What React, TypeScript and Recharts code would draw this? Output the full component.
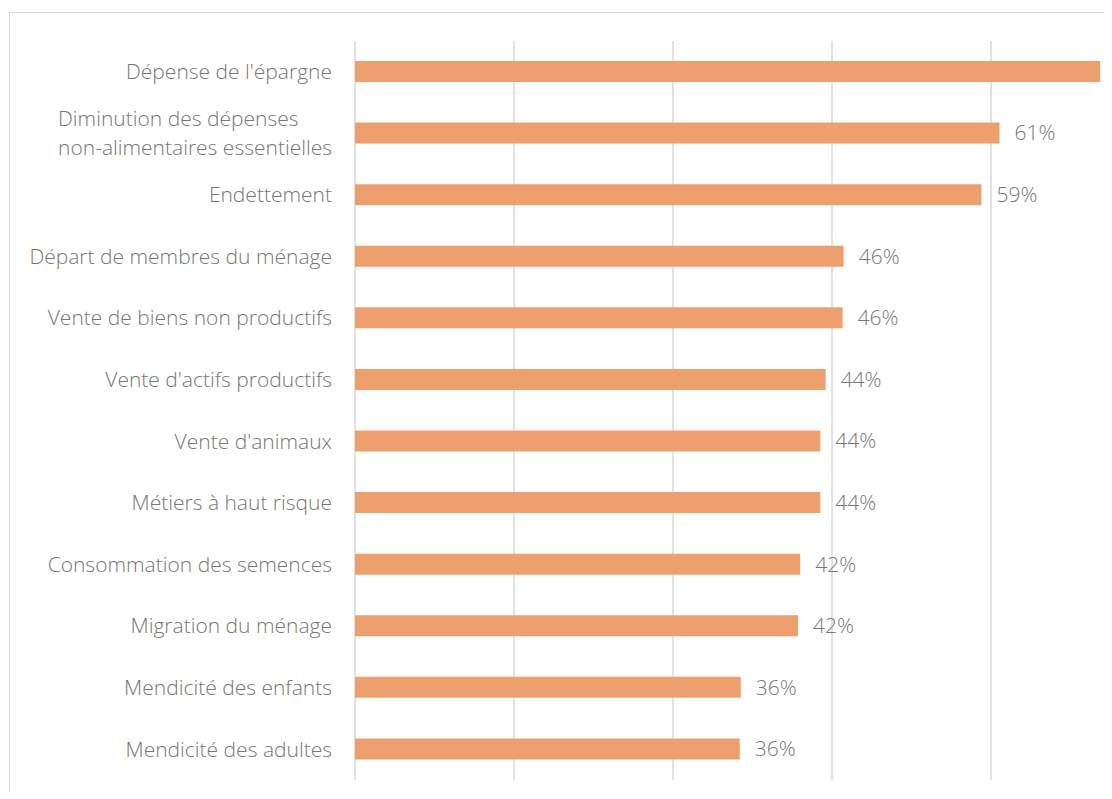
import React from 'react';
import { BarChart, Bar, XAxis, YAxis, CartesianGrid, LabelList } from 'recharts';

const categories = [
  "Dépense de l'épargne",
  'Diminution des dépenses\nnon-alimentaires essentielles',
  'Endettement',
  'Départ de membres du ménage',
  'Vente de biens non productifs',
  "Vente d'actifs productifs",
  "Vente d'animaux",
  'Métiers à haut risque',
  'Consommation des semences',
  'Migration du ménage',
  'Mendicité des enfants',
  'Mendicité des adultes',
];

const values = [70.3, 60.8, 59.1, 46.1, 46.0, 44.4, 43.9, 43.9, 42.0, 41.8, 36.4, 36.3];

const xTicks = [0, 15, 30, 45, 60, 75];

const data = categories.map((name, i) => ({ name, value: values[i] }));

const FONT = '"Open Sans", "Noto Sans", sans-serif';
const FONT_SIZE = 21;
const FONT_WEIGHT = 300;
const TEXT_COLOR = '#767676';
const BAR_COLOR = '#EDA06E';
const GRID_COLOR = '#d9d9d9';
const VISIBLE_WIDTH = 1104;

let ctx: CanvasRenderingContext2D | null = null;
function measure(text: string): number {
  if (!ctx) {
    const c = document.createElement('canvas');
    ctx = c.getContext('2d');
  }
  if (!ctx) return text.length * FONT_SIZE * 0.5;
  ctx.font = `${FONT_WEIGHT} ${FONT_SIZE}px ${FONT}`;
  return ctx.measureText(text).width;
}

const CategoryTick = (props: any) => {
  const { x, y, payload } = props;
  const lines = String(payload.value).split('\n');
  const base = FONT_SIZE * 0.35;
  if (lines.length === 1) {
    return (
      <text x={x} y={y + base} textAnchor="end" fontFamily={FONT} fontWeight={FONT_WEIGHT} fontSize={FONT_SIZE} fill={TEXT_COLOR}>
        {lines[0]}
      </text>
    );
  }
  const maxW = Math.max(...lines.map((l) => measure(l)));
  const startX = x - maxW;
  const lh = 29;
  return (
    <text fontFamily={FONT} fontWeight={FONT_WEIGHT} fontSize={FONT_SIZE} fill={TEXT_COLOR} textAnchor="start">
      {lines.map((l, i) => (
        <tspan key={i} x={startX} y={y + (i - (lines.length - 1) / 2) * lh + base}>
          {l}
        </tspan>
      ))}
    </text>
  );
};

const ValueLabel = (props: any) => {
  const { x, y, width, height, value } = props;
  const txt = `${Math.round(Number(value))}%`;
  const lx = Number(x) + Number(width) + 15;
  if (lx + measure(txt) > VISIBLE_WIDTH) return null;
  return (
    <text
      x={lx}
      y={Number(y) + Number(height) / 2 + FONT_SIZE * 0.35}
      fontFamily={FONT}
      fontWeight={FONT_WEIGHT}
      fontSize={FONT_SIZE}
      fill={TEXT_COLOR}
    >
      {txt}
    </text>
  );
};

export default function App() {
  return (
    <div style={{ position: 'relative', width: VISIBLE_WIDTH, height: 783, overflow: 'hidden', background: '#fff' }}>
      <div
        style={{
          position: 'absolute',
          left: 1,
          top: 4,
          width: 1300,
          height: 900,
          border: `1px solid ${GRID_COLOR}`,
          boxSizing: 'border-box',
        }}
      />
      <div style={{ position: 'absolute', left: 0, top: 0 }}>
        <BarChart
          width={1192}
          height={790}
          data={data}
          layout="vertical"
          margin={{ top: 33, right: 50, bottom: 18, left: 0 }}
          barSize={21}
        >
          <CartesianGrid horizontal={false} vertical stroke={GRID_COLOR} strokeWidth={1.5} />
          <XAxis type="number" domain={[0, 75]} ticks={xTicks} hide />
          <YAxis
            type="category"
            dataKey="name"
            width={347}
            axisLine={false}
            tickLine={false}
            tickSize={0}
            tickMargin={23}
            interval={0}
            tick={<CategoryTick />}
          />
          <Bar dataKey="value" fill={BAR_COLOR} isAnimationActive={false}>
            <LabelList dataKey="value" content={<ValueLabel />} />
          </Bar>
        </BarChart>
      </div>
    </div>
  );
}
